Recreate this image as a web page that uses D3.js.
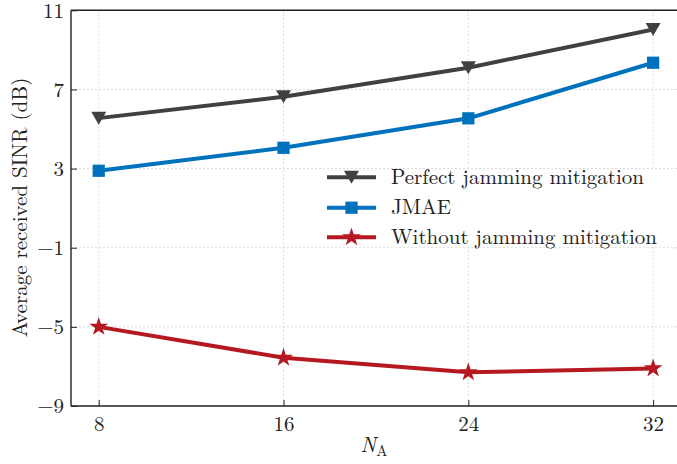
<!DOCTYPE html>
<html><head><meta charset="utf-8">
<script src="https://cdn.jsdelivr.net/npm/d3@7"></script>
<style>body{margin:0;background:#fff}svg{display:block}text{font-family:"Latin Modern Roman","Liberation Serif",serif;fill:#222}</style>
</head><body><svg id="c" width="677" height="464"></svg>
<script>
const xValues = [8, 16, 24, 32];
const perfect = [5.55, 6.63, 8.1, 10.03];
const jmae = [2.89, 4.05, 5.54, 8.35];
const without = [-5.0, -6.56, -7.3, -7.1];
const yTicks = [-9, -5, -1, 3, 7, 11];
const seriesNames = ["Perfect jamming mitigation", "JMAE", "Without jamming mitigation"];
const colors = ["#404040", "#0072BD", "#B5191F"];

const svg = d3.select("#c");
const L = 71, T = 10.3, B = 406;
const x = d3.scaleLinear().domain([6.8, 33.2]).range([L, L + 26.4 * 23.1]);
const y = d3.scaleLinear().domain([-9, 11]).range([B, T]);
const R = 677;
const FONT = '"Latin Modern Roman","Liberation Serif",serif';

// grid
const g = svg.append("g");
xValues.forEach(v => g.append("line").attr("x1", x(v)).attr("x2", x(v)).attr("y1", T).attr("y2", B)
  .attr("stroke", "#cfcfcf").attr("stroke-width", 0.8).attr("stroke-dasharray", "2,2"));
yTicks.forEach(v => g.append("line").attr("x1", L).attr("x2", R).attr("y1", y(v)).attr("y2", y(v))
  .attr("stroke", "#cfcfcf").attr("stroke-width", 0.8).attr("stroke-dasharray", "2,2"));

// axes
const xa = svg.append("g").attr("transform", `translate(0,${B})`)
  .call(d3.axisBottom(x).tickValues(xValues).tickSize(-6).tickPadding(10).tickFormat(d3.format("d")));
const ya = svg.append("g").attr("transform", `translate(${L},0)`)
  .call(d3.axisLeft(y).tickValues(yTicks).tickSize(-6).tickPadding(7).tickFormat(d => d < 0 ? "\u2212" + Math.abs(d) : d));
[xa, ya].forEach(a => {
  a.select(".domain").remove();
  a.selectAll("line").attr("stroke", "#222").attr("stroke-width", 1);
  a.selectAll("text").style("font-family", FONT).style("font-size", "21px").attr("fill", "#222");
});
svg.append("line").attr("x1", L).attr("x2", R).attr("y1", B).attr("y2", B).attr("stroke", "#222").attr("stroke-width", 1.4);
svg.append("line").attr("x1", L).attr("x2", R).attr("y1", T).attr("y2", T).attr("stroke", "#222").attr("stroke-width", 1.4);
svg.append("line").attr("x1", L).attr("x2", L).attr("y1", T).attr("y2", B).attr("stroke", "#222").attr("stroke-width", 1.4);

// markers
const triDown = "M-7.5,-6.5L7.5,-6.5L0,6.5Z";
const sq = d3.symbol().type(d3.symbolSquare).size(150)();
const star = d3.symbol().type(d3.symbolStar).size(110)();
const markers = [triDown, sq, star];
const data = [perfect, jmae, without];
const line = d3.line().x((d, i) => x(xValues[i])).y(d => y(d));
data.forEach((s, k) => {
  svg.append("path").attr("d", line(s)).attr("fill", "none").attr("stroke", colors[k]).attr("stroke-width", 4).attr("stroke-linejoin", "round");
  s.forEach((v, i) => svg.append("path").attr("d", markers[k]).attr("transform", `translate(${x(xValues[i])},${y(v)})`).attr("fill", colors[k]));
});

// legend
svg.append("rect").attr("x", 322).attr("y", 170.5).attr("width", 346).attr("height", 76).attr("fill", "#fff");
const rows = [177.3, 207.7, 237.3];
seriesNames.forEach((n, k) => {
  svg.append("line").attr("x1", 327).attr("x2", 376).attr("y1", rows[k]).attr("y2", rows[k]).attr("stroke", colors[k]).attr("stroke-width", 4);
  svg.append("path").attr("d", markers[k]).attr("transform", `translate(351.5,${rows[k]})`).attr("fill", colors[k]);
  svg.append("text").attr("x", 391).attr("y", rows[k]).attr("dy", "0.32em").style("font-size", "21px").text(n);
});

// axis labels
svg.append("text").attr("transform", "translate(27,207.5) rotate(-90)").attr("text-anchor", "middle").style("font-size", "21px")
  .text("Average received SINR (dB)");
const xl = svg.append("text").attr("x", 374).attr("y", 452).attr("text-anchor", "middle").style("font-size", "21px");
xl.append("tspan").style("font-style", "italic").text("N");
xl.append("tspan").attr("dy", 4).style("font-size", "15px").text("A");
</script></body></html>
